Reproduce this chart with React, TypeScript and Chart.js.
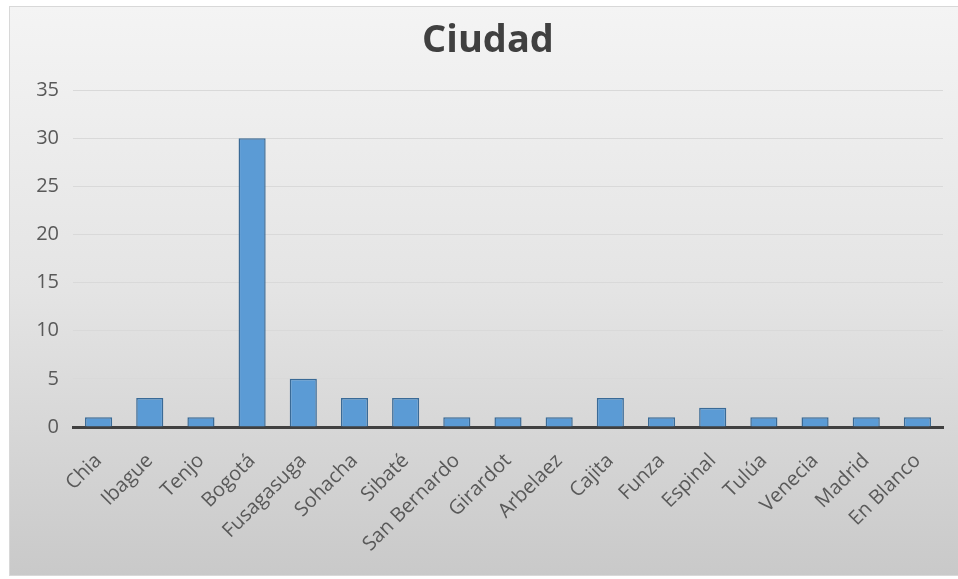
import React, { useEffect, useRef } from "react";
import { Chart, registerables } from "chart.js";

Chart.register(...registerables);

const categories = [
  "Chia", "Ibague", "Tenjo", "Bogotá", "Fusagasuga", "Sohacha", "Sibaté",
  "San Bernardo", "Girardot", "Arbelaez", "Cajita", "Funza", "Espinal",
  "Tulúa", "Venecia", "Madrid", "En Blanco",
];
const values = [1, 3, 1, 30, 5, 3, 3, 1, 1, 1, 3, 1, 2, 1, 1, 1, 1];
const titleText = "Ciudad";
const yMax = 35;
const yStep = 5;

const panelPlugin = {
  id: "panelBg",
  beforeDraw(chart: any) {
    const { ctx, width, height } = chart;
    ctx.save();
    ctx.fillStyle = "#ffffff";
    ctx.fillRect(0, 0, width, height);
    const g = ctx.createLinearGradient(0, 6, 0, height - 3);
    g.addColorStop(0, "#f4f4f4");
    g.addColorStop(0.5, "#e4e4e4");
    g.addColorStop(1, "#c9c9c9");
    ctx.fillStyle = g;
    ctx.fillRect(9, 6, width - 9, height - 9);
    ctx.strokeStyle = "#d8d8d8";
    ctx.lineWidth = 1;
    ctx.strokeRect(9.5, 6.5, width - 9, height - 10);
    ctx.restore();
  },
  afterDraw(chart: any) {
    const { ctx } = chart;
    ctx.save();
    ctx.fillStyle = "#404040";
    ctx.font = "bold 38px 'Open Sans'";
    ctx.textAlign = "center";
    ctx.textBaseline = "alphabetic";
    ctx.fillText(titleText, 488, 52);
    ctx.restore();
  },
};

export default function App() {
  const ref = useRef<HTMLCanvasElement>(null);
  useEffect(() => {
    document.body.style.margin = "0";
    const chart = new Chart(ref.current!, {
      type: "bar",
      data: {
        labels: categories,
        datasets: [
          {
            data: values,
            backgroundColor: "#5b9bd5",
            borderColor: "#3a6a96",
            borderWidth: 1.5,
            barPercentage: 0.53,
            categoryPercentage: 1,
          },
        ],
      },
      options: {
        animation: false,
        responsive: false,
        layout: { padding: { left: 9, right: 15, top: 90, bottom: 0 } },
        plugins: {
          legend: { display: false },
          tooltip: { enabled: false },
          title: { display: false },
        },
        scales: {
          x: {
            grid: { display: false, drawTicks: false },
            border: { display: true, color: "#404040", width: 3 },
            ticks: {
              color: "#595959",
              font: { family: "Open Sans", size: 20 },
              minRotation: 45,
              maxRotation: 45,
              padding: 22,
              autoSkip: false,
            },
            afterFit(scale: any) {
              scale.height = 152;
            },
          },
          y: {
            min: 0,
            max: yMax,
            ticks: {
              stepSize: yStep,
              color: "#595959",
              font: { family: "Open Sans", size: 20 },
              padding: 14,
            },
            grid: { color: "#d9d9d9", lineWidth: 1, drawTicks: false },
            border: { display: false },
            afterFit(scale: any) {
              scale.width = 64;
            },
          },
        },
      },
      plugins: [panelPlugin],
    });
    return () => chart.destroy();
  }, []);
  return (
    <div style={{ position: "fixed", left: 0, top: 0, width: 958, height: 579 }}>
      <canvas ref={ref} width={958} height={579} />
    </div>
  );
}
